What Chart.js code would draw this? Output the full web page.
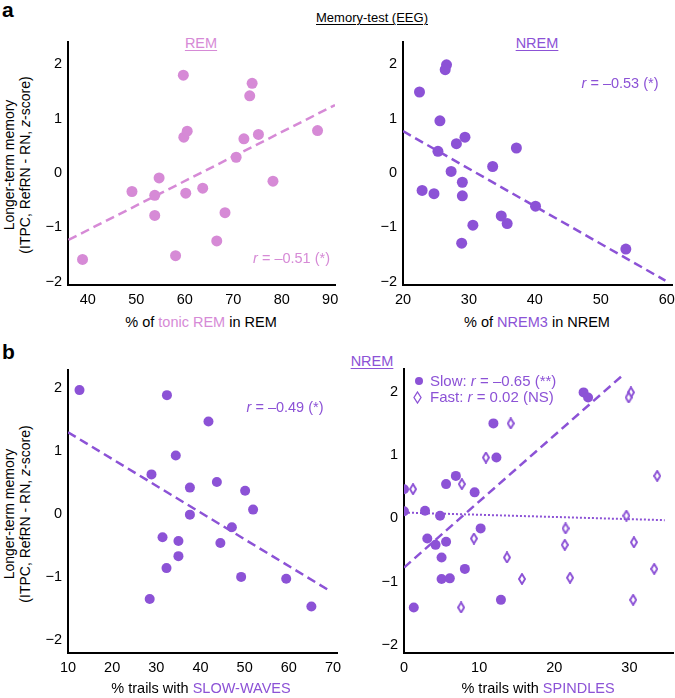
<!DOCTYPE html>
<html>
<head>
<meta charset="utf-8">
<script src="https://cdn.jsdelivr.net/npm/chart.js@4.4.1/dist/chart.umd.min.js"></script>
<style>
  body { margin:0; width:675px; height:698px; overflow:hidden; background:#fff; position:relative;
         font-family:"Liberation Sans", Arial, sans-serif; color:#000; }
  canvas { position:absolute; }
  .t { position:absolute; white-space:nowrap; font-size:14.5px; line-height:16px; }
  .c { transform:translate(-50%,-50%); }
  .u { text-decoration:underline; text-underline-offset:2px; text-decoration-thickness:1px; }
  .ytitle { position:absolute; white-space:nowrap; font-size:14px; line-height:16px; text-align:center;
            transform:translate(-50%,-50%) rotate(-90deg); }
  .pink { color:#D68AD6; }
  .purple { color:#8C52D6; }
  .letter { position:absolute; font-weight:bold; font-size:21px; }
</style>
</head>
<body>

<div class="letter" style="left:2px;top:-2px">a</div>
<div class="letter" style="left:2px;top:340px">b</div>

<div class="t c u" style="left:372px;top:18px;font-size:13px">Memory-test (EEG)</div>
<div class="t c u pink" style="left:201px;top:43px">REM</div>
<div class="t c u purple" style="left:537px;top:43px">NREM</div>
<div class="t c u purple" style="left:372px;top:361px">NREM</div>

<div class="ytitle" style="left:17px;top:165px">Longer-term memory<br>(ITPC, RefRN - RN, <i>z</i>-score)</div>
<div class="ytitle" style="left:17px;top:514px">Longer-term memory<br>(ITPC, RefRN - RN, <i>z</i>-score)</div>

<canvas id="remChart" width="323" height="287" style="left:28px;top:26px"></canvas>
<canvas id="nremChart" width="325" height="287" style="left:363px;top:26px"></canvas>
<canvas id="swChart" width="325" height="327" style="left:28px;top:354px"></canvas>
<canvas id="spChart" width="325" height="328" style="left:364px;top:353px"></canvas>

<div class="t c" style="left:201px;top:322px">% of <span class="pink">tonic REM</span> in REM</div>
<div class="t c" style="left:537px;top:322px">% of <span class="purple">NREM3</span> in NREM</div>
<div class="t c" style="left:201px;top:688px">% trails with <span class="purple">SLOW-WAVES</span></div>
<div class="t c" style="left:538px;top:688px">% trails with <span class="purple">SPINDLES</span></div>

<div class="t pink" style="left:330px;top:258px;transform:translate(-100%,-50%)"><i>r</i> = –0.51 (*)</div>
<div class="t c purple" style="left:620px;top:83px"><i>r</i> = –0.53 (*)</div>
<div class="t c purple" style="left:285px;top:407px"><i>r</i> = –0.49 (*)</div>

<div style="position:absolute;left:415px;top:377px;width:8px;height:8px;border-radius:50%;background:#8C52D6"></div>
<div class="t purple" style="left:430px;top:373px;font-size:15px"><span>Slow: <i>r</i> = –0.65 (**)</span></div>
<svg style="position:absolute;left:413px;top:391px" width="9" height="13"><path d="M4.5 1 L8 6.5 L4.5 12 L1 6.5 Z" fill="#fff" stroke="#8C52D6" stroke-width="1.3"/></svg>
<div class="t purple" style="left:430px;top:389px;font-size:15px"><span>Fast: <i>r</i> = 0.02 (NS)</span></div>

<script>
const PINK = '#D68AD6';
const PURPLE = '#8C52D6';

// a, REM: % tonic REM vs memory
const remTonicX = [38.9, 49.1, 53.8, 53.8, 54.7, 58.1, 59.7, 59.8, 60.5, 60.2, 63.7, 66.6, 68.3, 70.6, 72.2, 73.4, 73.9, 75.2, 78.2, 87.4];
const remMemY = [-1.59, -0.34, -0.41, -0.78, -0.09, -1.52, 1.80, 0.66, 0.77, -0.37, -0.28, -1.25, -0.73, 0.29, 0.63, 1.42, 1.65, 0.71, -0.15, 0.78];
const remFitX = [36, 91];
const remFitY = [-1.23, 1.25];

// a, NREM: % NREM3 vs memory
const nrem3X = [22.5, 26.6, 26.4, 22.9, 24.7, 25.6, 25.3, 27.3, 28.1, 29.4, 29.0, 29.0, 28.9, 30.6, 33.6, 37.2, 34.9, 35.8, 40.1, 53.8];
const nrem3MemY = [1.49, 1.99, 1.90, -0.32, -0.38, 0.96, 0.40, 0.03, 0.54, 0.66, -0.17, -0.42, -1.29, -0.96, 0.12, 0.46, -0.79, -0.93, -0.61, -1.40];
const nremFitX = [20, 59.8];
const nremFitY = [0.77, -1.98];

// b, slow-waves
const slowWaveX = [12.6, 32.4, 41.8, 34.4, 28.9, 37.6, 43.7, 50.1, 51.9, 37.6, 47.1, 31.4, 35.0, 44.5, 35.0, 32.3, 49.2, 59.4, 28.5, 65.1];
const slowWaveMemY = [1.97, 1.89, 1.47, 0.93, 0.63, 0.42, 0.51, 0.37, 0.07, -0.01, -0.21, -0.37, -0.43, -0.46, -0.67, -0.86, -1.00, -1.03, -1.35, -1.47];
const swFitX = [10, 69];
const swFitY = [1.30, -1.21];

// b, spindles (slow and fast)
const slowSpindleX = [0, 0, 2.8, 4.8, 3.1, 4.2, 5.6, 5.6, 6.9, 5.0, 5.0, 6.1, 8.1, 9.4, 10.2, 11.9, 12.3, 12.9, 1.3, 23.9, 24.5];
const slowSpindleMemY = [0.46, 0.11, 0.12, 0.04, -0.32, -0.42, -0.37, 0.54, 0.67, -0.62, -0.96, -0.95, -0.80, 0.41, -0.16, 1.50, 0.96, -1.29, -1.41, 1.99, 1.91];
const fastSpindleX = [1.2, 7.7, 9.3, 10.9, 14.2, 13.7, 15.7, 7.6, 21.5, 21.4, 22.1, 30.2, 29.9, 29.6, 30.6, 30.5, 33.3, 33.7];
const fastSpindleMemY = [0.46, 0.54, -0.32, 0.96, 1.50, -0.62, -0.96, -1.41, -0.16, -0.42, -0.94, 1.99, 1.91, 0.04, -0.38, -1.29, -0.80, 0.67];
const slowSpFitX = [0, 28.9];
const slowSpFitY = [-0.78, 2.24];
const fastSpFitX = [0, 34.7];
const fastSpFitY = [0.09, -0.03];

// tick labels
const memTicks = [-2, -1, 0, 1, 2];
const remTicks = [40, 50, 60, 70, 80, 90];
const nremTicks = [20, 30, 40, 50, 60];
const swTicks = [10, 20, 30, 40, 50, 60, 70];
const spTicks = [0, 10, 20, 30];

Chart.defaults.font.family = '"Liberation Sans", Arial, sans-serif';
Chart.defaults.font.size = 14.5;
Chart.defaults.color = '#000';

const pts = (xs, ys) => xs.map((x, i) => ({ x, y: ys[i] }));
const fmt = v => String(v).replace('-', '\u2212');

function dots(xs, ys, color, r) {
  return { data: pts(xs, ys), backgroundColor: color, borderWidth: 0, pointRadius: r, pointHoverRadius: r, clip: 0 };
}
function fit(xs, ys, color, dash, width) {
  return { data: pts(xs, ys), showLine: true, borderColor: color, borderWidth: width, borderDash: dash,
           pointRadius: 0, pointHoverRadius: 0, fill: false, clip: 0 };
}

// tall open diamond used for fast spindles
function diamond() {
  const c = document.createElement('canvas');
  c.width = 8; c.height = 12;
  const g = c.getContext('2d');
  g.beginPath();
  g.moveTo(4, 1); g.lineTo(7, 6); g.lineTo(4, 11); g.lineTo(1, 6); g.closePath();
  g.fillStyle = '#fff'; g.fill();
  g.lineWidth = 1.9; g.strokeStyle = PURPLE; g.stroke();
  return c;
}

function axis(min, max, ticks, isX) {
  return {
    type: 'linear', min, max,
    afterBuildTicks: s => { s.ticks = ticks.map(v => ({ value: v })); },
    afterFit: s => { if (isX) s.height = 28; else s.width = 40; },
    grid: { display: false, drawTicks: false },
    border: { display: true, color: '#000', width: 2 },
    ticks: { padding: 6, maxRotation: 0, autoSkip: false, callback: fmt }
  };
}

function makePanel(id, datasets, xr, yr, xTicks) {
  return new Chart(document.getElementById(id), {
    type: 'scatter',
    data: { datasets },
    options: {
      responsive: false,
      animation: false,
      layout: { padding: { top: 16, right: 16, left: 0, bottom: 0 } },
      plugins: { legend: { display: false }, tooltip: { enabled: false } },
      scales: {
        x: axis(xr[0], xr[1], xTicks, true),
        y: axis(yr[0], yr[1], memTicks, false)
      }
    }
  });
}

makePanel('remChart', [
  dots(remTonicX, remMemY, PINK, 5.5),
  fit(remFitX, remFitY, PINK, [9, 5], 2.5)
], [35.9, 91.0], [-2.06, 2.41], remTicks);

makePanel('nremChart', [
  dots(nrem3X, nrem3MemY, PURPLE, 5.5),
  fit(nremFitX, nremFitY, PURPLE, [9, 5], 2.5)
], [20, 60.8], [-2.06, 2.41], nremTicks);

makePanel('swChart', [
  dots(slowWaveX, slowWaveMemY, PURPLE, 5),
  fit(swFitX, swFitY, PURPLE, [9, 5], 2.5)
], [10, 70.9], [-2.21, 2.29], swTicks);

const dia = diamond();
makePanel('spChart', [
  dots(slowSpindleX, slowSpindleMemY, PURPLE, 5),
  { data: pts(fastSpindleX, fastSpindleMemY), pointStyle: dia, pointRadius: 5, clip: 0 },
  fit(slowSpFitX, slowSpFitY, PURPLE, [9, 5], 2.5),
  fit(fastSpFitX, fastSpFitY, PURPLE, [2, 2], 2)
], [0, 35.8], [-2.13, 2.36], spTicks);
</script>
</body>
</html>
